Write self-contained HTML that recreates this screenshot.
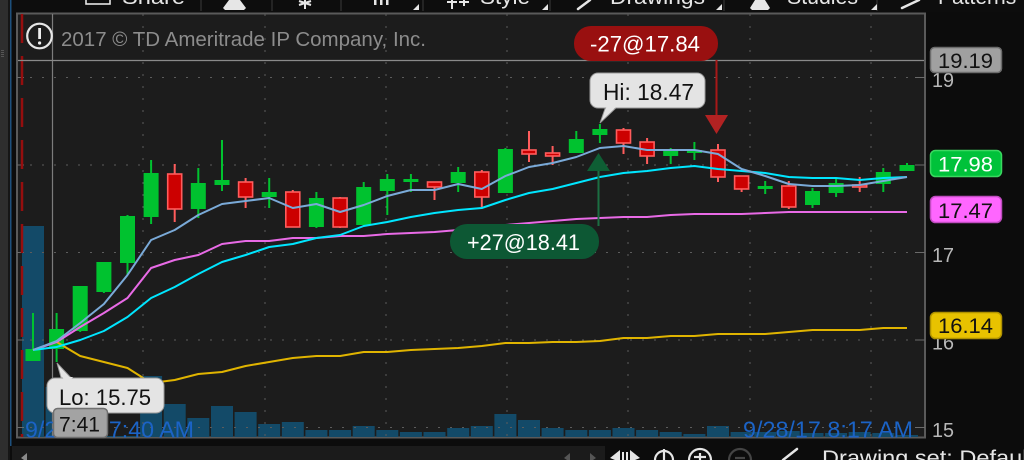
<!DOCTYPE html>
<html><head><meta charset="utf-8"><style>
html,body{margin:0;padding:0;background:#0c0c0c;width:1024px;height:460px;overflow:hidden}
svg{display:block}
text{font-family:"Liberation Sans",sans-serif}
</style></head><body>
<svg width="1024" height="460" viewBox="0 0 1024 460" xmlns="http://www.w3.org/2000/svg">
<rect x="0" y="0" width="1024" height="460" fill="#0c0c0c"/>
<!-- left strips -->
<rect x="0" y="0" width="8" height="460" fill="#2e2e2e"/>
<rect x="8" y="0" width="2" height="460" fill="#161616"/>
<rect x="10" y="0" width="1.5" height="446" fill="#1d4f7c"/>
<g fill="#555"><rect x="1" y="50" width="3" height="1"/><rect x="1" y="52" width="3" height="1"/><rect x="1" y="54" width="3" height="1"/><rect x="1" y="56" width="3" height="1"/></g>

<!-- top toolbar -->
<rect x="12" y="0" width="1012" height="12" fill="#0d0d0d"/>
<g stroke="#2c2c2c" stroke-width="1.5">
<line x1="201" y1="0" x2="201" y2="11"/><line x1="272" y1="0" x2="272" y2="11"/><line x1="341" y1="0" x2="341" y2="11"/><line x1="423" y1="0" x2="423" y2="11"/><line x1="550" y1="0" x2="550" y2="11"/><line x1="724" y1="0" x2="724" y2="11"/><line x1="877" y1="0" x2="877" y2="11"/>
</g>
<g fill="#e6e6e6" font-size="21">
<text x="122" y="4" textLength="63" lengthAdjust="spacingAndGlyphs">Share</text>
<text x="480" y="4" textLength="50" lengthAdjust="spacingAndGlyphs">Style</text>
<text x="610" y="4" textLength="95" lengthAdjust="spacingAndGlyphs">Drawings</text>
<text x="787" y="4" textLength="71" lengthAdjust="spacingAndGlyphs">Studies</text>
<text x="938" y="4">Patterns</text>
</g>
<rect x="86" y="-10" width="24" height="14" fill="none" stroke="#e6e6e6" stroke-width="1.6"/>
<polygon points="229,0 240,0 246,8 244,10 225,10 223,8" fill="#e6e6e6"/>
<polygon points="755,0 765,0 770,8 768,10 752,10 750,8" fill="#e6e6e6"/>
<g stroke="#e6e6e6" stroke-width="2"><line x1="305" y1="0" x2="305" y2="9"/><line x1="299" y1="1" x2="311" y2="5"/><line x1="311" y1="1" x2="299" y2="5"/></g>
<g fill="#e6e6e6"><rect x="374" y="0" width="2.5" height="5"/><rect x="380" y="0" width="2.5" height="5"/><rect x="386" y="0" width="2.5" height="5"/></g>
<g stroke="#e6e6e6" stroke-width="2"><line x1="452" y1="0" x2="452" y2="9"/><line x1="447" y1="2" x2="457" y2="2"/><line x1="464" y1="0" x2="464" y2="6"/><line x1="459" y1="2" x2="469" y2="2"/></g>
<g stroke="#e6e6e6" stroke-width="2.5" stroke-linecap="round"><line x1="590" y1="0" x2="578" y2="9"/><line x1="919" y1="0" x2="902" y2="8"/></g>
<g fill="#e6e6e6"><polygon points="419,4 419,10 413,10"/><polygon points="548,4 548,10 542,10"/><polygon points="722,4 722,10 716,10"/><polygon points="877,4 877,10 871,10"/></g>

<!-- chart area -->
<rect x="17" y="13.5" width="908" height="424" fill="#1c1c1c" stroke="#5a5a5a" stroke-width="2"/>

<!-- volume bars -->
<g fill="#134a68">
<rect x="22" y="226" width="22" height="211"/>
<rect x="45.6" y="387" width="22" height="50"/>
<rect x="69.2" y="400" width="22" height="37"/>
<rect x="92.9" y="436" width="22" height="1"/>
<rect x="116.5" y="436" width="22" height="1"/>
<rect x="140.1" y="376" width="22" height="61"/>
<rect x="163.7" y="404" width="22" height="33"/>
<rect x="187.3" y="418" width="22" height="19"/>
<rect x="211" y="406" width="22" height="31"/>
<rect x="234.6" y="412" width="22" height="25"/>
<rect x="258.2" y="424" width="22" height="13"/>
<rect x="281.8" y="422" width="22" height="15"/>
<rect x="305.4" y="430" width="22" height="7"/>
<rect x="329.1" y="430" width="22" height="7"/>
<rect x="352.7" y="426" width="22" height="11"/>
<rect x="376.3" y="430" width="22" height="7"/>
<rect x="399.9" y="432" width="22" height="5"/>
<rect x="423.5" y="432" width="22" height="5"/>
<rect x="447.2" y="428" width="22" height="9"/>
<rect x="470.8" y="426" width="22" height="11"/>
<rect x="494.4" y="414" width="22" height="23"/>
<rect x="518" y="420" width="22" height="17"/>
<rect x="541.6" y="428" width="22" height="9"/>
<rect x="565.3" y="430" width="22" height="7"/>
<rect x="588.9" y="430" width="22" height="7"/>
<rect x="612.5" y="428" width="22" height="9"/>
<rect x="636.1" y="430" width="22" height="7"/>
<rect x="659.7" y="432" width="22" height="5"/>
<rect x="683.4" y="434" width="22" height="3"/>
<rect x="707" y="426" width="22" height="11"/>
<rect x="730.6" y="432" width="22" height="5"/>
<rect x="754.2" y="432" width="22" height="5"/>
<rect x="777.8" y="431" width="22" height="6"/>
<rect x="801.5" y="433" width="22" height="4"/>
<rect x="825.1" y="433" width="22" height="4"/>
<rect x="848.7" y="432" width="22" height="5"/>
<rect x="872.3" y="433" width="22" height="4"/>
<rect x="896" y="435" width="22" height="2"/>
</g>

<!-- grid -->
<g stroke="#5c5c5c" stroke-width="1" stroke-dasharray="2 10">
<line x1="18" y1="77.5" x2="924" y2="77.5"/>
<line x1="18" y1="165" x2="924" y2="165"/>
<line x1="18" y1="252.5" x2="924" y2="252.5"/>
<line x1="18" y1="340" x2="924" y2="340"/>
<line x1="18" y1="427.5" x2="924" y2="427.5"/>
<line x1="143" y1="14" x2="143" y2="437"/>
<line x1="265" y1="14" x2="265" y2="437"/>
<line x1="386" y1="14" x2="386" y2="437"/>
<line x1="507" y1="14" x2="507" y2="437"/>
<line x1="628" y1="14" x2="628" y2="437"/>
<line x1="750" y1="14" x2="750" y2="437"/>
<line x1="871" y1="14" x2="871" y2="437"/>
</g>
<g stroke="#6a6a6a" stroke-width="1">
<line x1="17" y1="77.5" x2="24" y2="77.5"/><line x1="17" y1="165" x2="24" y2="165"/><line x1="17" y1="252.5" x2="24" y2="252.5"/><line x1="17" y1="340" x2="24" y2="340"/><line x1="17" y1="427.5" x2="24" y2="427.5"/>
<line x1="915" y1="77.5" x2="925" y2="77.5"/><line x1="915" y1="165" x2="925" y2="165"/><line x1="915" y1="252.5" x2="925" y2="252.5"/><line x1="915" y1="340" x2="925" y2="340"/><line x1="915" y1="427.5" x2="925" y2="427.5"/>
</g>

<!-- red dashed session line -->
<line x1="22" y1="14" x2="22" y2="437" stroke="#950e0e" stroke-width="2.5" stroke-dasharray="29 13"/>

<!-- crosshair -->
<line x1="52.5" y1="14" x2="52.5" y2="437" stroke="#7c7c7c" stroke-width="1.2"/>
<line x1="18" y1="60.5" x2="924" y2="60.5" stroke="#8a8a8a" stroke-width="1.2"/>

<!-- candles: wicks -->
<g stroke="#00c22f" stroke-width="2">
<line x1="33" y1="313" x2="33" y2="361"/>
<line x1="56.6" y1="313" x2="56.6" y2="362"/>
<line x1="80.2" y1="286" x2="80.2" y2="332"/>
<line x1="103.9" y1="262" x2="103.9" y2="293"/>
<line x1="127.5" y1="215" x2="127.5" y2="275"/>
<line x1="151.1" y1="160" x2="151.1" y2="224"/>
<line x1="198.3" y1="168" x2="198.3" y2="218"/>
<line x1="222" y1="140" x2="222" y2="191"/>
<line x1="269.2" y1="178" x2="269.2" y2="208"/>
<line x1="316.4" y1="192" x2="316.4" y2="228"/>
<line x1="363.7" y1="182" x2="363.7" y2="226"/>
<line x1="387.3" y1="174" x2="387.3" y2="215"/>
<line x1="410.9" y1="174" x2="410.9" y2="192"/>
<line x1="458.2" y1="167" x2="458.2" y2="192"/>
<line x1="505.4" y1="148" x2="505.4" y2="193"/>
<line x1="576.3" y1="131" x2="576.3" y2="153"/>
<line x1="599.9" y1="124" x2="599.9" y2="143"/>
<line x1="670.7" y1="148" x2="670.7" y2="164"/>
<line x1="694.4" y1="142" x2="694.4" y2="160"/>
<line x1="765.2" y1="181" x2="765.2" y2="194"/>
<line x1="812.5" y1="188" x2="812.5" y2="208"/>
<line x1="836.1" y1="178" x2="836.1" y2="197"/>
<line x1="883.3" y1="168" x2="883.3" y2="192"/>
<line x1="907" y1="163" x2="907" y2="171"/>
</g>
<g stroke="#ff5c5c" stroke-width="2">
<line x1="174.7" y1="164" x2="174.7" y2="222"/>
<line x1="245.6" y1="178" x2="245.6" y2="208"/>
<line x1="292.8" y1="190" x2="292.8" y2="227"/>
<line x1="340.1" y1="197" x2="340.1" y2="228"/>
<line x1="434.5" y1="182" x2="434.5" y2="200"/>
<line x1="481.8" y1="170" x2="481.8" y2="207"/>
<line x1="529" y1="131" x2="529" y2="162"/>
<line x1="552.6" y1="146" x2="552.6" y2="165"/>
<line x1="623.5" y1="128" x2="623.5" y2="154"/>
<line x1="647.1" y1="138" x2="647.1" y2="164"/>
<line x1="718" y1="144" x2="718" y2="182"/>
<line x1="741.6" y1="176" x2="741.6" y2="192"/>
<line x1="788.8" y1="181" x2="788.8" y2="209"/>
<line x1="859.7" y1="177" x2="859.7" y2="192"/>
</g>
<!-- candles: bodies -->
<g fill="#00c22f">
<rect x="25.5" y="349" width="15" height="12"/>
<rect x="49.1" y="329" width="15" height="20"/>
<rect x="72.7" y="286" width="15" height="45"/>
<rect x="96.4" y="262" width="15" height="30"/>
<rect x="120" y="216" width="15" height="47"/>
<rect x="143.6" y="173" width="15" height="44"/>
<rect x="190.8" y="183" width="15" height="26"/>
<rect x="214.5" y="180" width="15" height="5"/>
<rect x="261.7" y="192" width="15" height="5"/>
<rect x="308.9" y="198" width="15" height="29"/>
<rect x="356.2" y="187" width="15" height="38"/>
<rect x="379.8" y="179" width="15" height="12"/>
<rect x="403.4" y="179" width="15" height="3"/>
<rect x="450.7" y="172" width="15" height="11"/>
<rect x="497.9" y="149" width="15" height="44"/>
<rect x="568.8" y="139" width="15" height="14"/>
<rect x="592.4" y="129" width="15" height="6"/>
<rect x="663.2" y="149" width="15" height="7"/>
<rect x="686.9" y="150" width="15" height="3"/>
<rect x="757.7" y="186" width="15" height="3"/>
<rect x="805" y="191" width="15" height="14"/>
<rect x="828.6" y="183" width="15" height="10"/>
<rect x="875.8" y="172" width="15" height="12"/>
<rect x="899.5" y="165" width="15" height="6"/>
</g>
<g fill="#cc0000" stroke="#ff5c5c" stroke-width="1.6">
<rect x="167.7" y="174" width="14" height="35"/>
<rect x="238.6" y="182" width="14" height="15"/>
<rect x="285.8" y="192" width="14" height="35"/>
<rect x="333.1" y="198" width="14" height="29"/>
<rect x="427.5" y="182" width="14" height="5"/>
<rect x="474.8" y="172" width="14" height="25"/>
<rect x="522" y="150" width="14" height="4"/>
<rect x="545.6" y="153" width="14" height="3"/>
<rect x="616.5" y="130" width="14" height="13"/>
<rect x="640.1" y="142" width="14" height="14"/>
<rect x="711" y="150" width="14" height="27"/>
<rect x="734.6" y="176" width="14" height="13"/>
<rect x="781.8" y="186" width="14" height="21"/>
<rect x="852.7" y="185" width="14" height="2"/>
</g>

<!-- moving averages -->
<g fill="none" stroke-width="2" stroke-linejoin="round">
<polyline stroke="#e0b400" points="56.6,342 80.2,356 103.9,362 127.5,368 151.1,383 174.7,380 198.3,374 222,372 245.6,366 269.2,362 292.8,358 316.4,356 340.1,356 363.7,352 387.3,352 410.9,350 434.5,349 458.2,348 481.8,346 505.4,343 529,343 552.6,342 576.3,342 599.9,341 623.5,338 647.1,338 670.7,336 694.4,336 718,334 741.6,334 765.2,334 788.8,332 812.5,330 836.1,330 859.7,330 883.3,328 907,328"/>
<polyline stroke="#e86ae6" points="33,350 56.6,342 80.2,327 103.9,313 127.5,298 151.1,268 174.7,260 198.3,255 222,244 245.6,241 269.2,241 292.8,238 316.4,238 340.1,236 363.7,236 387.3,234 410.9,233 434.5,232 458.2,230 481.8,228 505.4,225 529,223 552.6,221 576.3,219 599.9,218 623.5,217 647.1,217 670.7,215 694.4,214 718,214 741.6,214 765.2,213 788.8,212 812.5,212 836.1,212 859.7,212 883.3,212 907,212"/>
<polyline stroke="#00e6ff" points="33,350 56.6,347 80.2,340 103.9,331 127.5,317 151.1,298 174.7,287 198.3,274 222,262 245.6,255 269.2,247 292.8,244 316.4,238 340.1,235 363.7,226 387.3,222 410.9,217 434.5,213 458.2,210 481.8,208 505.4,200 529,193 552.6,189 576.3,183 599.9,177 623.5,173 647.1,171 670.7,168 694.4,166 718,169 741.6,171 765.2,173 788.8,177 812.5,178 836.1,178 859.7,180 883.3,178 907,177"/>
<polyline stroke="#7aaad8" points="33,350 56.6,341 80.2,323 103.9,304 127.5,275 151.1,240 174.7,230 198.3,215 222,204 245.6,201 269.2,198 292.8,208 316.4,204 340.1,212 363.7,205 387.3,196 410.9,190 434.5,190 458.2,184 481.8,189 505.4,176 529,167 552.6,163 576.3,157 599.9,148 623.5,146 647.1,150 670.7,150 694.4,150 718,154 741.6,169 765.2,176 788.8,184 812.5,186 836.1,186 859.7,185 883.3,181 907,177"/>
</g>

<!-- trade markers -->
<line x1="716.5" y1="60" x2="716.5" y2="116" stroke="#a81818" stroke-width="2"/>
<polygon points="705,115 728,115 716.5,134" fill="#b22222"/>
<rect x="574" y="26" width="144" height="35" rx="17" fill="#991010"/>
<text x="590" y="51.5" font-size="22" fill="#fff" textLength="110" lengthAdjust="spacingAndGlyphs">-27@17.84</text>

<line x1="598.5" y1="170" x2="598.5" y2="226" stroke="#1b6e42" stroke-width="2"/>
<polygon points="587,171 610,171 598.5,153" fill="#0e5e34"/>
<rect x="450" y="224" width="149" height="35" rx="17" fill="#0d5834"/>
<text x="467" y="250" font-size="22" fill="#fff" textLength="113" lengthAdjust="spacingAndGlyphs">+27@18.41</text>

<!-- Hi callout -->
<polygon points="600,123 606,106 618,106" fill="#e4e4e4" stroke="#9a9a9a" stroke-width="1"/>
<rect x="590" y="73" width="115" height="35" rx="8" fill="#e4e4e4" stroke="#9a9a9a" stroke-width="1"/>
<polygon points="606.5,107 617,107 604,113" fill="#e4e4e4"/>
<text x="603" y="100" font-size="23" fill="#111" textLength="91" lengthAdjust="spacingAndGlyphs">Hi: 18.47</text>

<!-- time axis labels -->
<text x="25" y="437.5" font-size="23" fill="#1b63c6" textLength="169" lengthAdjust="spacingAndGlyphs">9/28/17 7:40 AM</text>
<text x="743" y="437.5" font-size="23" fill="#1b63c6" textLength="170" lengthAdjust="spacingAndGlyphs">9/28/17 8:17 AM</text>

<!-- Lo callout -->
<polygon points="57,363 62,381 74,381" fill="#e4e4e4" stroke="#9a9a9a" stroke-width="1"/>
<rect x="47" y="378" width="117" height="35" rx="8" fill="#e4e4e4" stroke="#9a9a9a" stroke-width="1"/>
<polygon points="62.5,377 73,377 66,384" fill="#e4e4e4"/>
<text x="59" y="405" font-size="22" fill="#111" textLength="92" lengthAdjust="spacingAndGlyphs">Lo: 15.75</text>

<!-- 7:41 time box -->
<rect x="53.5" y="408.5" width="54" height="29" rx="4" fill="#a3a3a3" stroke="#6f6f6f" stroke-width="1.5"/>
<text x="59" y="431.5" font-size="21" fill="#111" textLength="41" lengthAdjust="spacingAndGlyphs">7:41</text>

<!-- copyright -->
<circle cx="39.5" cy="36" r="12.3" fill="#1c1c1c" stroke="#e6e6e6" stroke-width="2.2"/>
<rect x="38.2" y="28" width="2.8" height="11" fill="#eee"/>
<circle cx="39.6" cy="43" r="1.6" fill="#eee"/>
<text x="61" y="46" font-size="20" fill="#8c8c8c" textLength="365" lengthAdjust="spacingAndGlyphs">2017 © TD Ameritrade IP Company, Inc.</text>

<!-- price axis -->
<g font-size="20" fill="#b8b8b8">
<text x="932" y="87" textLength="22" lengthAdjust="spacingAndGlyphs">19</text>
<text x="932" y="174.5" textLength="22" lengthAdjust="spacingAndGlyphs">18</text>
<text x="932" y="262" textLength="22" lengthAdjust="spacingAndGlyphs">17</text>
<text x="932" y="349.5" textLength="22" lengthAdjust="spacingAndGlyphs">16</text>
<text x="932" y="437" textLength="22" lengthAdjust="spacingAndGlyphs">15</text>
</g>
<rect x="930.5" y="47.5" width="71" height="25" rx="4" fill="#a0a0a0" stroke="#6c6c6c" stroke-width="1.5"/>
<text x="938" y="68" font-size="21.5" fill="#111" textLength="55" lengthAdjust="spacingAndGlyphs">19.19</text>
<rect x="930.5" y="150.5" width="71" height="26" rx="5" fill="#00c23a" stroke="#3ad860" stroke-width="1.5"/>
<text x="938" y="171.7" font-size="21.5" fill="#fff" textLength="55" lengthAdjust="spacingAndGlyphs">17.98</text>
<rect x="930.5" y="196.5" width="71" height="26" rx="5" fill="#ff66ff" stroke="#c04cc0" stroke-width="1.5"/>
<text x="938" y="218" font-size="21.5" fill="#111" textLength="55" lengthAdjust="spacingAndGlyphs">17.47</text>
<rect x="930.5" y="312.5" width="71" height="26" rx="5" fill="#e8c200" stroke="#b09200" stroke-width="1.5"/>
<text x="938" y="333" font-size="21.5" fill="#111" textLength="55" lengthAdjust="spacingAndGlyphs">16.14</text>

<!-- bottom toolbar -->
<rect x="12" y="446" width="593" height="14" fill="#1b1b1b"/>
<polygon points="27,453 27,462 21,458" fill="#8a8a8a"/>
<polygon points="570,453 570,462 564,458" fill="#555"/>
<polygon points="590,453 590,462 596,458" fill="#555"/>
<g fill="#e6e6e6">
<polygon points="620,450 620,462 610,458"/>
<rect x="622" y="452" width="2" height="8"/><rect x="626" y="452" width="2" height="8"/>
<polygon points="630,450 630,462 640,458"/>
</g>
<g fill="none" stroke-width="2.2">
<circle cx="664" cy="460" r="9" stroke="#e6e6e6"/>
<line x1="664" y1="449" x2="664" y2="460" stroke="#e6e6e6"/>
<circle cx="700" cy="460" r="11" stroke="#e6e6e6"/>
<line x1="700" y1="453" x2="700" y2="460" stroke="#e6e6e6"/>
<line x1="694" y1="457" x2="706" y2="457" stroke="#e6e6e6"/>
<circle cx="740" cy="460" r="11" stroke="#444"/>
<line x1="735" y1="458" x2="745" y2="458" stroke="#444"/>
</g>
<line x1="797" y1="449" x2="783" y2="460" stroke="#e6e6e6" stroke-width="2.5" stroke-linecap="round"/>
<text x="822" y="465" font-size="21.5" fill="#e6e6e6" textLength="212" lengthAdjust="spacingAndGlyphs">Drawing set: Default</text>
</svg>
</body></html>
